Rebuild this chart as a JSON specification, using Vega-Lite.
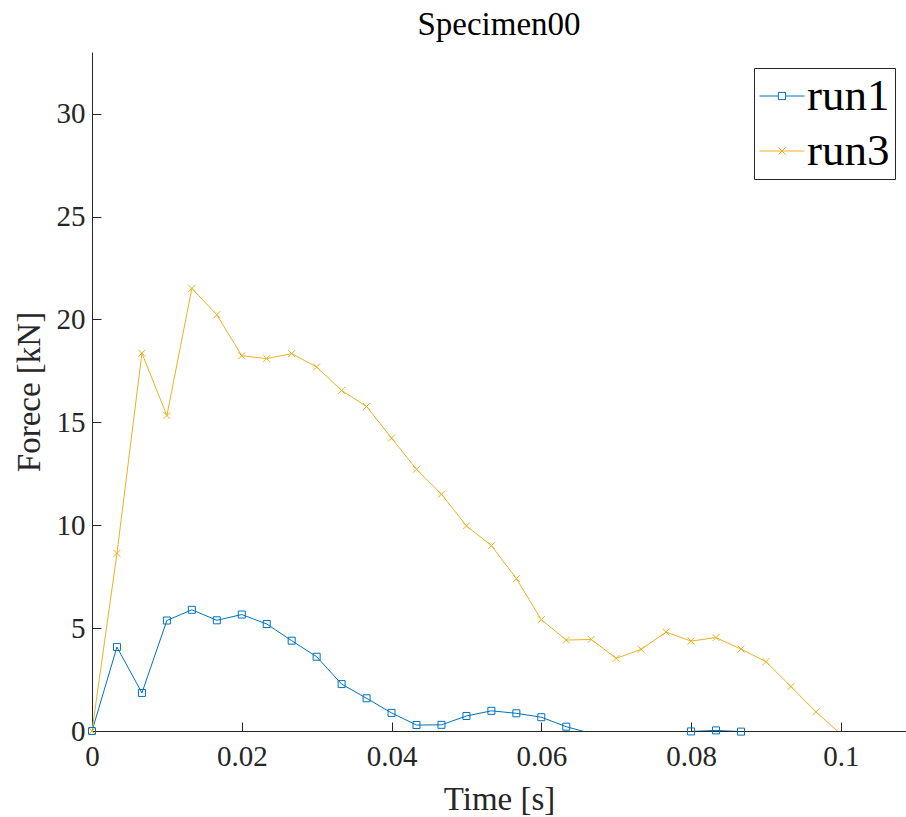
{
  "$schema": "https://vega.github.io/schema/vega-lite/v6.json",
  "width": 814,
  "height": 679,
  "autosize": {"type": "none"},
  "padding": {"left": 92, "top": 52, "right": 0, "bottom": 86},
  "background": "white",
  "config": {
    "view": {"stroke": null},
    "font": "Liberation Serif",
    "axis": {
      "grid": false,
      "domainColor": "#262626",
      "domainWidth": 1,
      "tickColor": "#262626",
      "tickWidth": 1,
      "tickSize": -9,
      "labelColor": "#262626",
      "labelFont": "Liberation Serif",
      "labelFontSize": 29,
      "labelFlush": false,
      "titleFont": "Liberation Serif",
      "titleFontSize": 33,
      "titleFontWeight": "normal",
      "titleColor": "#262626"
    },
    "title": {"font": "Liberation Serif", "fontSize": 33, "fontWeight": "normal", "color": "#000000"}
  },
  "title": {"text": "Specimen00", "offset": 10},
  "data": {
    "values": [
      {"run": "run1", "t": 0, "f": 0},
      {"run": "run1", "t": 0.003333, "f": 4.08},
      {"run": "run1", "t": 0.006667, "f": 1.85},
      {"run": "run1", "t": 0.01, "f": 5.37},
      {"run": "run1", "t": 0.013333, "f": 5.89},
      {"run": "run1", "t": 0.016667, "f": 5.38},
      {"run": "run1", "t": 0.02, "f": 5.66},
      {"run": "run1", "t": 0.023333, "f": 5.2},
      {"run": "run1", "t": 0.026667, "f": 4.39},
      {"run": "run1", "t": 0.03, "f": 3.61},
      {"run": "run1", "t": 0.033333, "f": 2.28},
      {"run": "run1", "t": 0.036667, "f": 1.59},
      {"run": "run1", "t": 0.04, "f": 0.88},
      {"run": "run1", "t": 0.043333, "f": 0.29},
      {"run": "run1", "t": 0.046667, "f": 0.3},
      {"run": "run1", "t": 0.05, "f": 0.73},
      {"run": "run1", "t": 0.053333, "f": 0.98},
      {"run": "run1", "t": 0.056667, "f": 0.86},
      {"run": "run1", "t": 0.06, "f": 0.67},
      {"run": "run1", "t": 0.063333, "f": 0.21},
      {"run": "run1", "t": 0.066667, "f": -0.12},
      {"run": "run1", "t": 0.07, "f": -0.6},
      {"run": "run1", "t": 0.073333, "f": -0.9},
      {"run": "run1", "t": 0.076667, "f": -0.7},
      {"run": "run1", "t": 0.08, "f": -0.02},
      {"run": "run1", "t": 0.083333, "f": 0.03},
      {"run": "run1", "t": 0.086667, "f": -0.03},
      {"run": "run3", "t": 0, "f": 0},
      {"run": "run3", "t": 0.003333, "f": 8.63},
      {"run": "run3", "t": 0.006667, "f": 18.36},
      {"run": "run3", "t": 0.01, "f": 15.33},
      {"run": "run3", "t": 0.013333, "f": 21.51},
      {"run": "run3", "t": 0.016667, "f": 20.23},
      {"run": "run3", "t": 0.02, "f": 18.24},
      {"run": "run3", "t": 0.023333, "f": 18.1},
      {"run": "run3", "t": 0.026667, "f": 18.34},
      {"run": "run3", "t": 0.03, "f": 17.69},
      {"run": "run3", "t": 0.033333, "f": 16.55},
      {"run": "run3", "t": 0.036667, "f": 15.77},
      {"run": "run3", "t": 0.04, "f": 14.24},
      {"run": "run3", "t": 0.043333, "f": 12.72},
      {"run": "run3", "t": 0.046667, "f": 11.51},
      {"run": "run3", "t": 0.05, "f": 9.97},
      {"run": "run3", "t": 0.053333, "f": 9.01},
      {"run": "run3", "t": 0.056667, "f": 7.41},
      {"run": "run3", "t": 0.06, "f": 5.41},
      {"run": "run3", "t": 0.063333, "f": 4.42},
      {"run": "run3", "t": 0.066667, "f": 4.45},
      {"run": "run3", "t": 0.07, "f": 3.53},
      {"run": "run3", "t": 0.073333, "f": 3.97},
      {"run": "run3", "t": 0.076667, "f": 4.81},
      {"run": "run3", "t": 0.08, "f": 4.37},
      {"run": "run3", "t": 0.083333, "f": 4.54},
      {"run": "run3", "t": 0.086667, "f": 3.98},
      {"run": "run3", "t": 0.09, "f": 3.37},
      {"run": "run3", "t": 0.093333, "f": 2.16},
      {"run": "run3", "t": 0.096667, "f": 0.93},
      {"run": "run3", "t": 0.1, "f": -0.15}
    ]
  },
  "encoding": {
    "x": {
      "field": "t", "type": "quantitative",
      "scale": {"domain": [0, 0.1087], "nice": false, "zero": false},
      "axis": {"title": "Time [s]", "values": [0, 0.02, 0.04, 0.06, 0.08, 0.1], "format": "~g", "labelPadding": 20, "titlePadding": 12}
    },
    "y": {
      "field": "f", "type": "quantitative",
      "scale": {"domain": [0, 33], "nice": false, "zero": false},
      "axis": {"title": "Forece [kN]", "values": [0, 5, 10, 15, 20, 25, 30], "labelPadding": 16, "titlePadding": 10}
    },
    "color": {
      "field": "run", "type": "nominal",
      "scale": {"domain": ["run1", "run3"], "range": ["#0072BD", "#EDB120"]},
      "legend": {
        "title": null,
        "orient": "none",
        "legendX": 662,
        "legendY": 16,
        "labelFont": "Liberation Serif",
        "labelFontSize": 45,
        "labelColor": "#000000",
        "labelOffset": 2,
        "symbolSize": 2025,
        "symbolStrokeWidth": 1,
        "symbolFillColor": "transparent",
        "strokeColor": "#262626",
        "fillColor": "white",
        "padding": 5,
        "rowPadding": 9,
        "encode": {
          "symbols": {
            "update": {
              "shape": {"signal": "datum.value == 'run1' ? 'M-1,0H-0.16M0.16,0H1M-0.16,-0.16H0.16V0.16H-0.16Z' : 'M-1,0H1M-0.16,-0.16L0.16,0.16M-0.16,0.16L0.16,-0.16'"},
              "fill": {"value": "transparent"}
            }
          }
        }
      }
    }
  },
  "layer": [
    {
      "mark": {"type": "line", "clip": true, "strokeWidth": 1},
      "encoding": {
        "order": {"field": "t", "type": "quantitative"}
      }
    },
    {
      "transform": [{"filter": "datum.f >= -0.1 && datum.run == 'run1'"}],
      "mark": {"type": "point", "filled": false, "strokeWidth": 1, "size": 49, "opacity": 1, "shape": "square"}
    },
    {
      "transform": [{"filter": "datum.f >= -0.1 && datum.run == 'run3'"}],
      "mark": {"type": "point", "filled": false, "strokeWidth": 1, "size": 49, "opacity": 1, "shape": "M-1,-1L1,1M-1,1L1,-1"}
    }
  ]
}
